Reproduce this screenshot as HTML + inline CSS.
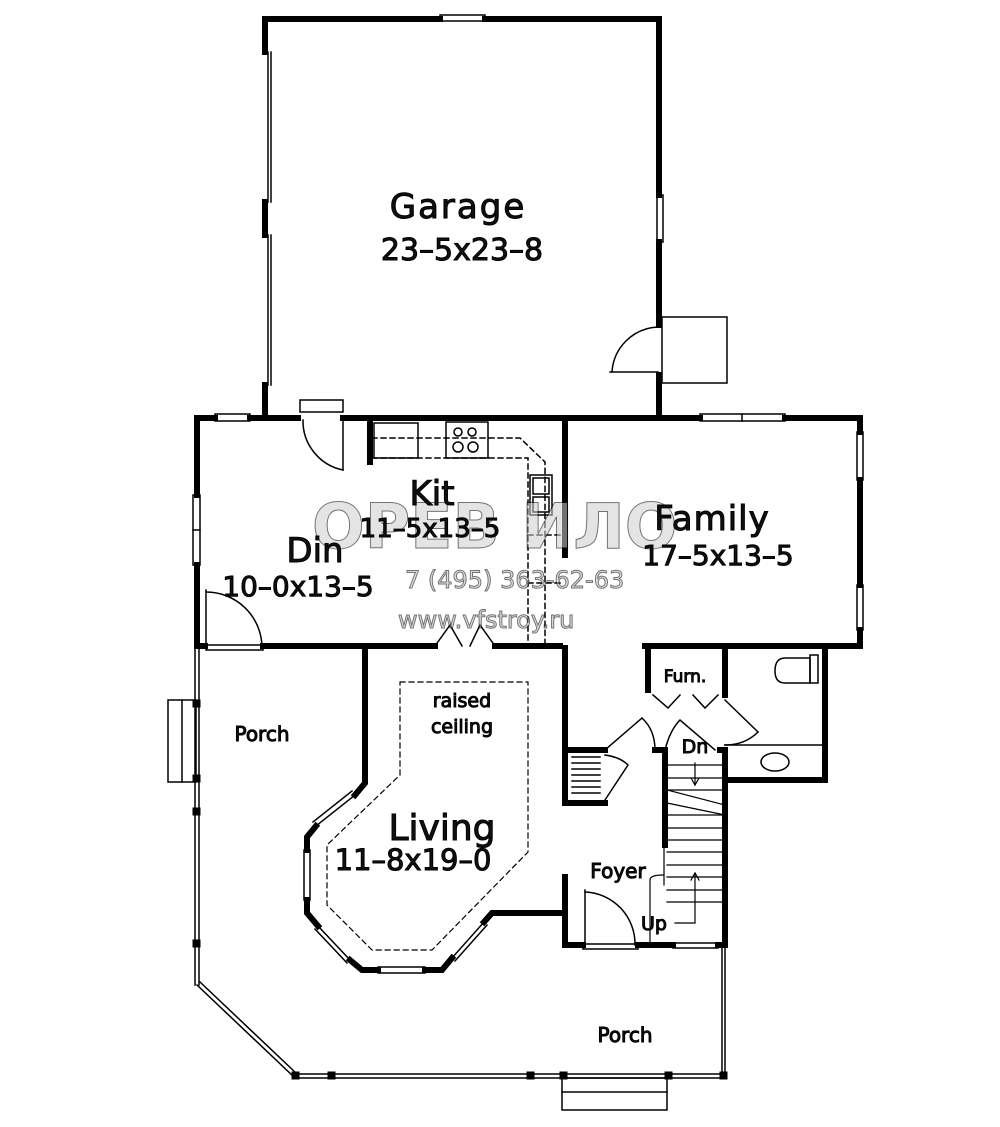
<!DOCTYPE html>
<html><head><meta charset="utf-8"><style>
html,body{margin:0;padding:0;background:#fff}
svg{display:block}
text{font-family:"DejaVu Sans","Liberation Sans",sans-serif;fill:#111}
</style></head><body>
<svg width="1000" height="1127" viewBox="0 0 1000 1127" xmlns="http://www.w3.org/2000/svg">
<rect width="1000" height="1127" fill="#fff"/>
<g stroke="#000" fill="none" stroke-linecap="square">
<!-- GARAGE thick walls -->
<g stroke-width="6">
<polyline points="265,52 265,19 440,19"/>
<line x1="485" y1="19" x2="659" y2="19"/>
<line x1="659" y1="19" x2="659" y2="195"/>
<line x1="659" y1="242" x2="659" y2="325"/>
<line x1="659" y1="375" x2="659" y2="415"/>
<line x1="265" y1="202" x2="265" y2="235"/>
<line x1="265" y1="385" x2="265" y2="415"/>
</g>
<g stroke-width="1.5">
<rect x="440" y="15" width="45" height="6"/>
<line x1="268" y1="52" x2="268" y2="202"/><line x1="271" y1="52" x2="271" y2="202"/>
<line x1="268" y1="235" x2="268" y2="385"/><line x1="271" y1="235" x2="271" y2="385"/>
<rect x="657" y="195" width="6" height="47"/>
<rect x="662" y="317" width="65" height="66"/>
<line x1="610" y1="372" x2="658" y2="372"/>
<path d="M612,372 A48,48 0 0 1 658,327"/>
</g>
<!-- MAIN thick walls -->
<g stroke-width="6">
<line x1="197" y1="418" x2="215" y2="418"/>
<line x1="250" y1="418" x2="298" y2="418"/>
<line x1="343" y1="418" x2="700" y2="418"/>
<line x1="785" y1="418" x2="860" y2="418"/>
<line x1="860" y1="418" x2="860" y2="432"/>
<line x1="860" y1="480" x2="860" y2="585"/>
<line x1="860" y1="630" x2="860" y2="646"/>
<line x1="197" y1="418" x2="197" y2="495"/>
<line x1="197" y1="565" x2="197" y2="646"/>
<line x1="197" y1="646" x2="205" y2="646"/>
<line x1="263" y1="646" x2="435" y2="646"/>
<line x1="495" y1="646" x2="560" y2="646"/>
<line x1="645" y1="646" x2="860" y2="646"/>
<line x1="370" y1="420" x2="370" y2="462"/>
<line x1="565" y1="418" x2="565" y2="555"/>
<line x1="565" y1="648" x2="565" y2="803"/>
<polyline points="365,648 365,783 355,795"/>
<polyline points="316,826 307,837 307,850"/>
<polyline points="307,900 307,913 318,926"/>
<polyline points="350,960 362,970 378,970"/>
<polyline points="425,970 442,970 452,958"/>
<polyline points="484,922 492,913 565,913 565,945 583,945"/>
<line x1="565" y1="877" x2="565" y2="945"/>
<line x1="638" y1="945" x2="673" y2="945"/>
<line x1="718" y1="945" x2="725" y2="945"/>
<line x1="725" y1="750" x2="725" y2="945"/>
<line x1="665" y1="753" x2="665" y2="845"/>
<polyline points="648,690 648,648"/>
<line x1="725" y1="648" x2="725" y2="695"/>
<polyline points="725,780 825,780 825,648"/>
<line x1="565" y1="750" x2="605" y2="750"/>
<line x1="565" y1="803" x2="605" y2="803"/>
<line x1="655" y1="750" x2="665" y2="750"/>
<line x1="720" y1="750" x2="725" y2="750"/>
</g>
<!-- windows -->
<g stroke-width="1.5">
<rect x="215" y="414" width="35" height="7"/>
<rect x="700" y="414" width="85" height="7"/><line x1="742" y1="414" x2="742" y2="421"/>
<rect x="857" y="432" width="6" height="48"/>
<rect x="857" y="585" width="6" height="45"/>
<rect x="193" y="495" width="7" height="70"/><line x1="193" y1="530" x2="200" y2="530"/>
<rect x="300" y="400" width="43" height="12"/>
<line x1="343" y1="420" x2="343" y2="470"/>
<path d="M343,470 A50,50 0 0 1 303,420"/>
<line x1="206" y1="590" x2="206" y2="646"/>
<path d="M206,592 A56,56 0 0 1 262,646"/>
<rect x="206" y="645" width="57" height="5"/>
<!-- bifold doors -->
<polyline points="435,646 450,625 462,646"/><polyline points="470,646 480,625 495,646"/>
<!-- bay windows -->
<line x1="355" y1="795" x2="316" y2="826"/><line x1="352" y1="791" x2="313" y2="822"/>
<rect x="304" y="850" width="6" height="50"/>
<line x1="318" y1="926" x2="350" y2="960"/><line x1="315" y1="929" x2="347" y2="963"/>
<rect x="378" y="967" width="47" height="6"/>
<line x1="452" y1="958" x2="484" y2="922"/><line x1="455" y1="961" x2="487" y2="925"/>
<!-- porch rails -->
<line x1="195" y1="648" x2="195" y2="985"/><line x1="199" y1="648" x2="199" y2="985"/>
<line x1="197" y1="985" x2="295" y2="1078"/><line x1="200" y1="982" x2="297" y2="1074"/>
<line x1="295" y1="1078" x2="725" y2="1078"/><line x1="297" y1="1074" x2="725" y2="1074"/>
<line x1="725" y1="945" x2="725" y2="1078"/><line x1="722" y1="948" x2="722" y2="1076"/>
<rect x="168" y="700" width="28" height="82"/><line x1="182" y1="700" x2="182" y2="782"/>
<rect x="562" y="1078" width="105" height="32"/><line x1="562" y1="1092" x2="667" y2="1092"/>
<!-- kitchen -->
<rect x="374" y="423" width="44" height="35"/>
<rect x="446" y="422" width="42" height="36"/>
<circle cx="458" cy="432" r="4"/><circle cx="472" cy="432" r="4"/>
<circle cx="458" cy="447" r="5"/><circle cx="473" cy="447" r="5"/>
<rect x="530" y="475" width="22" height="40"/><rect x="533" y="478" width="16" height="16"/><rect x="533" y="497" width="16" height="15"/>
<!-- foyer door -->
<line x1="585" y1="890" x2="585" y2="945"/>
<path d="M585,892 A52,52 0 0 1 635,945"/>
<rect x="583" y="944" width="55" height="5"/>
<rect x="673" y="943" width="45" height="5"/>
<!-- stairs -->
<g stroke-width="1.2">
<line x1="667" y1="765" x2="725" y2="765"/><line x1="667" y1="778" x2="725" y2="778"/>
<line x1="667" y1="790" x2="725" y2="790"/><line x1="667" y1="840" x2="725" y2="840"/>
<line x1="667" y1="852" x2="725" y2="852"/><line x1="667" y1="865" x2="725" y2="865"/>
<line x1="667" y1="877" x2="725" y2="877"/><line x1="667" y1="890" x2="725" y2="890"/>
<line x1="667" y1="902" x2="725" y2="902"/>
<line x1="667" y1="790" x2="725" y2="805"/><line x1="667" y1="803" x2="725" y2="815"/>
<line x1="667" y1="815" x2="725" y2="815"/><line x1="667" y1="828" x2="725" y2="828"/>
<polyline points="695,763 695,785"/><polyline points="691,778 695,785 699,778"/>
<polyline points="675,923 695,923 695,873"/><polyline points="691,880 695,873 699,880"/>
<path d="M650,945 V880 Q650,875 663,875"/>
<line x1="664" y1="845" x2="664" y2="885"/>
</g>
<!-- closets, doors -->
<g stroke-width="1.5">
<line x1="572" y1="757" x2="600" y2="757"/><line x1="572" y1="763" x2="600" y2="763"/>
<line x1="572" y1="769" x2="600" y2="769"/><line x1="572" y1="775" x2="600" y2="775"/>
<line x1="572" y1="781" x2="600" y2="781"/><line x1="572" y1="787" x2="600" y2="787"/>
<line x1="572" y1="793" x2="600" y2="793"/>
<path d="M605,755 Q620,757 628,765 L605,800"/>
<polyline points="605,750 642,718"/><path d="M642,718 Q655,730 655,750"/>
<path d="M665,750 Q670,730 680,720 L715,750"/>
<polyline points="653,695 668,708 680,695"/><polyline points="693,695 705,708 718,695"/>
<line x1="725" y1="700" x2="758" y2="732"/><path d="M758,732 Q745,745 725,745"/>
<line x1="725" y1="745" x2="825" y2="745"/>
<path d="M785,658 h25 v25 h-25 q-10,0 -10,-12 q0,-13 10,-13z"/>
<rect x="810" y="655" width="8" height="28"/>
<ellipse cx="775" cy="762" rx="14" ry="9"/>
</g>
<!-- dashed -->
<g stroke-width="1.5" stroke-dasharray="5,4">
<polyline points="372,438 520,438 545,462 545,645"/>
<polyline points="372,458 528,458 528,645"/>
<polyline points="528,535 560,535"/><polyline points="528,583 560,583"/>
<path d="M400,682 H528 V852 L432,950 H372 L327,905 V845 L400,775 Z" stroke-width="1.2"/>
</g>
</g>
<!-- porch posts -->
<g fill="#000">
<rect x="193" y="700" width="7" height="7"/><rect x="193" y="775" width="7" height="7"/>
<rect x="193" y="808" width="7" height="7"/><rect x="193" y="940" width="7" height="7"/>
<rect x="292" y="1072" width="7" height="7"/><rect x="328" y="1072" width="7" height="7"/>
<rect x="527" y="1072" width="7" height="7"/><rect x="560" y="1072" width="7" height="7"/>
<rect x="665" y="1072" width="7" height="7"/><rect x="720" y="1072" width="7" height="7"/>
</g>
<!-- watermark -->
<g opacity="0.55">
<text x="312" y="548" font-size="62" style="fill:#cfcfcf" font-weight="bold">ОРЕВ  ИЛО</text>
<text x="405" y="588" font-size="24" style="fill:#c4c4c4">7 (495) 363-62-63</text>
<text x="398" y="628" font-size="24" style="fill:#c4c4c4" font-family="Liberation Serif">www.vfstroy.ru</text>
</g>
<!-- labels -->
<text x="458" y="218" font-size="34" text-anchor="middle" letter-spacing="2">Garage</text>
<text x="462" y="260" font-size="30" text-anchor="middle">23–5x23–8</text>
<text x="432" y="505" font-size="34" text-anchor="middle">Kit</text>
<text x="430" y="537" font-size="26" text-anchor="middle">11–5x13–5</text>
<text x="315" y="562" font-size="34" text-anchor="middle">Din</text>
<text x="298" y="596" font-size="28" text-anchor="middle">10–0x13–5</text>
<text x="712" y="530" font-size="34" text-anchor="middle" letter-spacing="1">Family</text>
<text x="718" y="565" font-size="28" text-anchor="middle">17–5x13–5</text>
<text x="262" y="741" font-size="20" text-anchor="middle">Porch</text>
<text x="462" y="707" font-size="19" text-anchor="middle">raised</text>
<text x="462" y="733" font-size="19" text-anchor="middle">ceiling</text>
<text x="442" y="840" font-size="36" text-anchor="middle">Living</text>
<text x="413" y="870" font-size="29" text-anchor="middle">11–8x19–0</text>
<text x="618" y="878" font-size="20" text-anchor="middle">Foyer</text>
<text x="685" y="682" font-size="17" text-anchor="middle">Furn.</text>
<text x="695" y="753" font-size="19" text-anchor="middle">Dn</text>
<text x="654" y="930" font-size="19" text-anchor="middle">Up</text>
<text x="625" y="1042" font-size="20" text-anchor="middle">Porch</text>
</svg>
</body></html>
